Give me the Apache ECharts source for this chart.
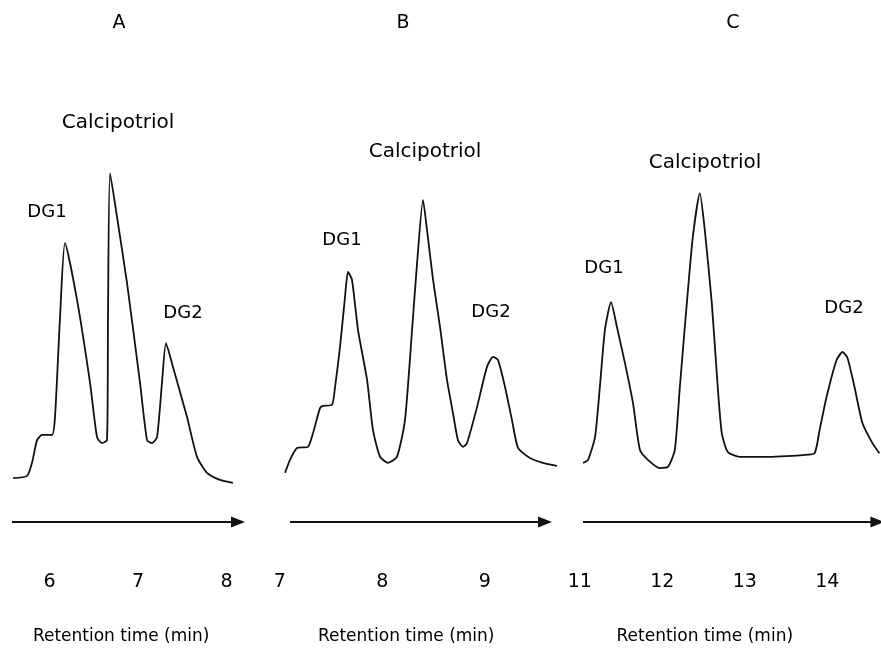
<!DOCTYPE html>
<html><head><meta charset="utf-8">
<script src="https://cdn.jsdelivr.net/npm/echarts@6/dist/echarts.min.js"></script>
<style>html,body{margin:0;padding:0;background:#fff}#c{width:881px;height:654px}</style>
</head><body><div id="c"></div>
<script>
// Panel titles
const panelNames = ['A', 'B', 'C'];
// Peak names
const peakNames = ['DG1', 'Calcipotriol', 'DG2'];
const axisTitle = 'Retention time (min)';

// Tick labels (retention time, min)
const ticksA = [6, 7, 8];
const ticksB = [7, 8, 9];
const ticksC = [11, 12, 13, 14];

// Time arrows (start, end) in min
const arrowA = [5.576, 8.13];
const arrowB = [7.10, 9.587];
const arrowC = [11.04, 14.607];

// Chromatogram A
const timeA = [5.588,5.746,5.802,5.859,5.915,6.028,6.062,6.119,6.175,6.311,6.458,6.537,6.593,6.650,6.661,6.684,6.763,6.876,7.023,7.102,7.158,7.215,7.271,7.316,7.395,7.554,7.667,7.780,7.927,8.073];
const signalA = [11.8,12.4,15.9,22.0,23.4,23.4,28.2,55.1,75.0,59.7,37.4,22.8,21.2,22.0,55.1,93.8,82.0,64.2,37.4,22.0,21.2,22.8,37.4,48.1,41.7,28.2,17.5,13.2,11.3,10.5];

// Chromatogram B
const timeB = [7.051,7.099,7.168,7.275,7.324,7.392,7.421,7.509,7.539,7.587,7.636,7.665,7.704,7.763,7.851,7.909,7.978,8.056,8.143,8.221,8.290,8.339,8.397,8.436,8.495,8.563,8.631,8.689,8.738,8.787,8.826,8.924,9.021,9.080,9.129,9.197,9.265,9.324,9.440,9.567,9.704];
const signalB = [13.2,16.7,19.9,20.2,23.9,30.6,31.2,31.5,36.3,47.0,60.5,67.2,65.1,51.6,38.2,24.7,17.5,15.9,17.5,27.4,51.6,69.6,86.6,78.5,65.1,52.4,38.2,29.3,22.0,20.2,21.2,30.9,41.7,44.4,43.5,36.3,27.4,19.9,17.2,15.9,15.1];

// Chromatogram C
const timeC = [11.040,11.100,11.185,11.244,11.305,11.379,11.451,11.548,11.645,11.729,11.826,11.971,12.068,12.152,12.213,12.298,12.370,12.455,12.515,12.600,12.672,12.721,12.794,12.939,13.301,13.507,13.700,13.845,13.906,13.990,14.111,14.184,14.244,14.329,14.425,14.546,14.631];
const signalC = [15.9,16.7,22.8,36.3,51.6,59.1,52.4,42.7,32.0,19.4,16.7,14.5,14.8,19.4,36.3,58.9,76.6,88.4,78.5,58.9,36.3,23.9,18.8,17.5,17.5,17.7,18.0,18.5,24.7,33.6,43.5,45.7,44.1,36.3,26.6,21.2,18.5];

const FONT = 'DejaVu Sans';
const INK = '#111';

const panels = [
  {t: timeA, s: signalA, ticks: ticksA, arrow: arrowA, min: 5.55, max: 8.25, left: 9.7, width: 238.9, namePad: [0, 16, 0, 0]},
  {t: timeB, s: signalB, ticks: ticksB, arrow: arrowB, min: 6.95, max: 9.75, left: 274.7, width: 287, namePad: [0, 24, 0, 0]},
  {t: timeC, s: signalC, ticks: ticksC, arrow: arrowC, min: 10.95, max: 14.65, left: 575.6, width: 306, namePad: [0, 47, 0, 0]}
];

const grid = [], xAxis = [], yAxis = [], series = [];
panels.forEach((p, i) => {
  grid.push({left: p.left, width: p.width, top: 150, bottom: 132, containLabel: false});
  xAxis.push({
    type: 'value', gridIndex: i, min: p.min, max: p.max,
    axisLine: {show: false}, axisTick: {show: false}, splitLine: {show: false},
    axisLabel: {customValues: p.ticks, margin: 51, fontSize: 19, color: '#000', fontFamily: FONT},
    name: axisTitle, nameLocation: 'middle', nameGap: 106,
    nameTextStyle: {fontSize: 17, color: '#000', fontFamily: FONT, padding: p.namePad}
  });
  yAxis.push({type: 'value', gridIndex: i, min: 0, max: 100, show: false});
  series.push({
    type: 'line', xAxisIndex: i, yAxisIndex: i, clip: false,
    data: p.t.map((v, k) => [v, p.s[k]]),
    showSymbol: false, symbol: 'none', smooth: 0.2,
    lineStyle: {color: INK, width: 1.8},
    silent: true,
    markLine: {
      silent: true, symbol: ['none', 'triangle'], symbolSize: [11, 14],
      label: {show: false},
      lineStyle: {color: INK, width: 1.8, type: 'solid'},
      emphasis: {disabled: true},
      data: [[{coord: [p.arrow[0], 0]}, {coord: [p.arrow[1], 0]}]]
    }
  });
});

// Annotation positions (pixel layout)
const titlePos = [[119, 23], [403, 23], [733, 23]];
const peakLabelPos = [
  [[47, 212], [118, 123], [183, 313]],
  [[342, 240], [425, 152], [491, 312]],
  [[604, 268], [705, 163], [844, 308]]
];
const graphic = [];
panelNames.forEach((n, i) => {
  graphic.push({type: 'text', x: titlePos[i][0], y: titlePos[i][1],
    style: {text: n, fontSize: 19, fontFamily: FONT, fill: '#000', align: 'center', verticalAlign: 'middle'}});
  peakNames.forEach((pn, j) => {
    graphic.push({type: 'text', x: peakLabelPos[i][j][0], y: peakLabelPos[i][j][1],
      style: {text: pn, fontSize: j === 1 ? 20 : 18, fontFamily: FONT, fill: '#000', align: 'center', verticalAlign: 'middle'}});
  });
});

const chart = echarts.init(document.getElementById('c'), null, {renderer: 'canvas'});
chart.setOption({
  animation: false,
  backgroundColor: '#fff',
  grid, xAxis, yAxis, series, graphic
});
</script></body></html>
